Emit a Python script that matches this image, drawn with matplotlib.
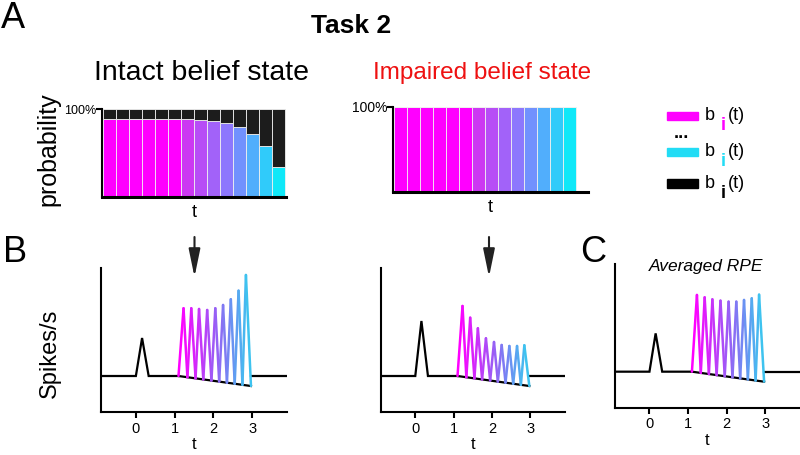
import numpy as np
import matplotlib
matplotlib.use('Agg')
import matplotlib.pyplot as plt
from matplotlib.collections import LineCollection
from matplotlib.colors import LinearSegmentedColormap
from matplotlib.patches import Rectangle

plt.rcParams['font.family'] = ['Liberation Sans', 'DejaVu Sans']

# Panel A: belief state probabilities for 14 time bins
bins = np.arange(14)
intact_prob = [0.887, 0.887, 0.887, 0.887, 0.887, 0.887, 0.887,
               0.879, 0.868, 0.84, 0.80, 0.72, 0.576, 0.342]
impaired_prob = [1.0] * 14

# Panels B/C: RPE traces
cue_t = [0.0, 0.16, 0.33]
rpe_start, rpe_end = 1.1, 2.97
trough_drop = -1.0
peak_t = [1.23, 1.43, 1.63, 1.84, 2.05, 2.25, 2.45, 2.65, 2.84]
trough_t = [1.33, 1.54, 1.74, 1.95, 2.15, 2.35, 2.55, 2.75]
intact_peaks = [6.77, 6.77, 6.7, 6.6, 6.77, 7.1, 7.67, 8.53, 10.1]
impaired_peaks = [7.0, 5.83, 4.77, 3.77, 3.4, 3.1, 3.0, 3.0, 3.07]
averaged_peaks = [7.67, 7.43, 7.23, 7.1, 7.0, 7.0, 7.17, 7.33, 7.7]
cue_heights = {'intact': 3.8, 'impaired': 5.5, 'averaged': 3.83}
time_ticks = [0, 1, 2, 3]

bar_cmap = LinearSegmentedColormap.from_list('bar', ['#cc38f2', '#8282ff', '#10e8f8'])
rpe_cmap = LinearSegmentedColormap.from_list('rpe', ['#ff00ff', '#9a5cf5', '#3ec3ef'])
bar_colors = ['#ff00ff'] * 6 + [bar_cmap(v) for v in np.linspace(0, 1, 8)]

fig = plt.figure(figsize=(8, 4.55), dpi=100)


def belief_axes(rect, probs, xmax, label_size):
    ax = fig.add_axes(rect)
    probs = np.array(probs)
    ax.bar(bins, probs, width=1.0, color=bar_colors, edgecolor='#f0f0f0', linewidth=0.6)
    ax.bar(bins, 1 - probs, bottom=probs, width=1.0, color='#1c1c1c',
           edgecolor='#f0f0f0', linewidth=0.6)
    ax.set_xlim(-0.6, xmax)
    ax.set_ylim(0, 1.0)
    for s in ['top', 'right']:
        ax.spines[s].set_visible(False)
    ax.spines['left'].set_linewidth(1.5)
    ax.spines['bottom'].set_linewidth(2.2)
    ax.set_xticks([])
    ax.set_yticks([1.0])
    ax.set_yticklabels(['100%'], fontsize=label_size)
    ax.tick_params(axis='y', length=4, width=1.5, pad=0)
    ax.set_xlabel('t', fontsize=13, labelpad=5)
    return ax


def rpe_axes(rect, peaks, cue_h):
    ax = fig.add_axes(rect)
    ax.set_xlim(-0.9, 3.9)
    ax.set_ylim(-3.6, 10.8)
    # black baseline with cue response and declining trough line
    ax.plot([-0.9, cue_t[0], cue_t[1], cue_t[2], rpe_start],
            [0, 0, cue_h, 0, 0], color='black', lw=1.6, solid_joinstyle='miter')
    ax.plot([rpe_start, rpe_end], [0, trough_drop], color='black', lw=1.6)
    ax.plot([rpe_end, 3.9], [0, 0], color='black', lw=1.6)
    # coloured zig-zag
    slope = trough_drop / (rpe_end - rpe_start)
    xs, ys = [rpe_start], [0.0]
    for i, (pt, ph) in enumerate(zip(peak_t, peaks)):
        xs.append(pt)
        ys.append(ph)
        if i < len(trough_t):
            xs.append(trough_t[i])
            ys.append(slope * (trough_t[i] - rpe_start))
    xs.append(rpe_end)
    ys.append(trough_drop)
    pts = np.column_stack([xs, ys]).reshape(-1, 1, 2)
    segs = np.concatenate([pts[:-1], pts[1:]], axis=1)
    lc = LineCollection(segs, colors=[rpe_cmap(v) for v in np.linspace(0, 1, len(segs))],
                        linewidths=1.8, capstyle='round')
    ax.add_collection(lc)
    for s in ['top', 'right']:
        ax.spines[s].set_visible(False)
    for s in ['left', 'bottom']:
        ax.spines[s].set_linewidth(1.5)
    ax.set_yticks([])
    ax.set_xticks(time_ticks)
    ax.tick_params(axis='x', length=4, width=1.5, labelsize=10.5, pad=3)
    ax.set_xlabel('t', fontsize=12, labelpad=1)
    return ax


belief_axes([0.1275, 0.5677, 0.23, 0.192], intact_prob, 13.55, 9)
belief_axes([0.4909, 0.5774, 0.2445, 0.188], impaired_prob, 14.45, 10)

rpe_axes([0.12625, 0.0945, 0.2325, 0.3165], intact_peaks, cue_heights['intact'])
rpe_axes([0.4759, 0.0945, 0.2304, 0.3165], impaired_peaks, cue_heights['impaired'])
rpe_axes([0.7684, 0.104, 0.2316, 0.3165], averaged_peaks, cue_heights['averaged'])

# overlay in pixel coordinates for text, legend and arrows
ov = fig.add_axes([0, 0, 1, 1], facecolor='none')
ov.set_xlim(0, 800)
ov.set_ylim(455, 0)
ov.axis('off')

ov.text(1, 18, 'A', fontsize=26, ha='left', va='center')
ov.text(3, 252, 'B', fontsize=26, ha='left', va='center')
ov.text(580, 252, 'C', fontsize=26, ha='left', va='center')
ov.text(351, 26, 'Task 2', fontsize=19, fontweight='bold', ha='center', va='center')
ov.text(201, 73, 'Intact belief state', fontsize=20.5, ha='center', va='center')
ov.text(482, 73, 'Impaired belief state', fontsize=17.5, color='#ee1111', ha='center', va='center')
ov.text(48, 149, 'probability', fontsize=18, rotation=90, ha='center', va='center')
ov.text(50, 353, 'Spikes/s', fontsize=17, rotation=90, ha='center', va='center')
ov.text(706, 267, 'Averaged RPE', fontsize=12.5, style='italic', ha='center', va='center')

# legend
legend_rows = [('#ff00ff', 116, 'normal'), ('#22dcf5', 152, 'normal'), ('#000000', 183.5, 'bold')]
for col, yc, w in legend_rows:
    ov.add_patch(Rectangle((667, yc - 4.2), 31, 8.4, color=col))
    ov.text(705, yc, 'b', fontsize=13, ha='left', va='center')
    ov.text(721, yc + 10, 'i', fontsize=13, color=col, fontweight='bold', ha='left', va='center')
    ov.text(728, yc, '(t)', fontsize=13, ha='left', va='center')
ov.text(681, 134, '...', fontsize=13, fontweight='bold', ha='center', va='center')

# arrows
for x in (194.5, 489):
    ov.annotate('', xy=(x, 277), xytext=(x, 237),
                arrowprops=dict(arrowstyle='-|>,head_length=1.7,head_width=0.35',
                                lw=1.5, color='#222222', shrinkA=0, shrinkB=0))

fig.savefig('out.png', dpi=100)
